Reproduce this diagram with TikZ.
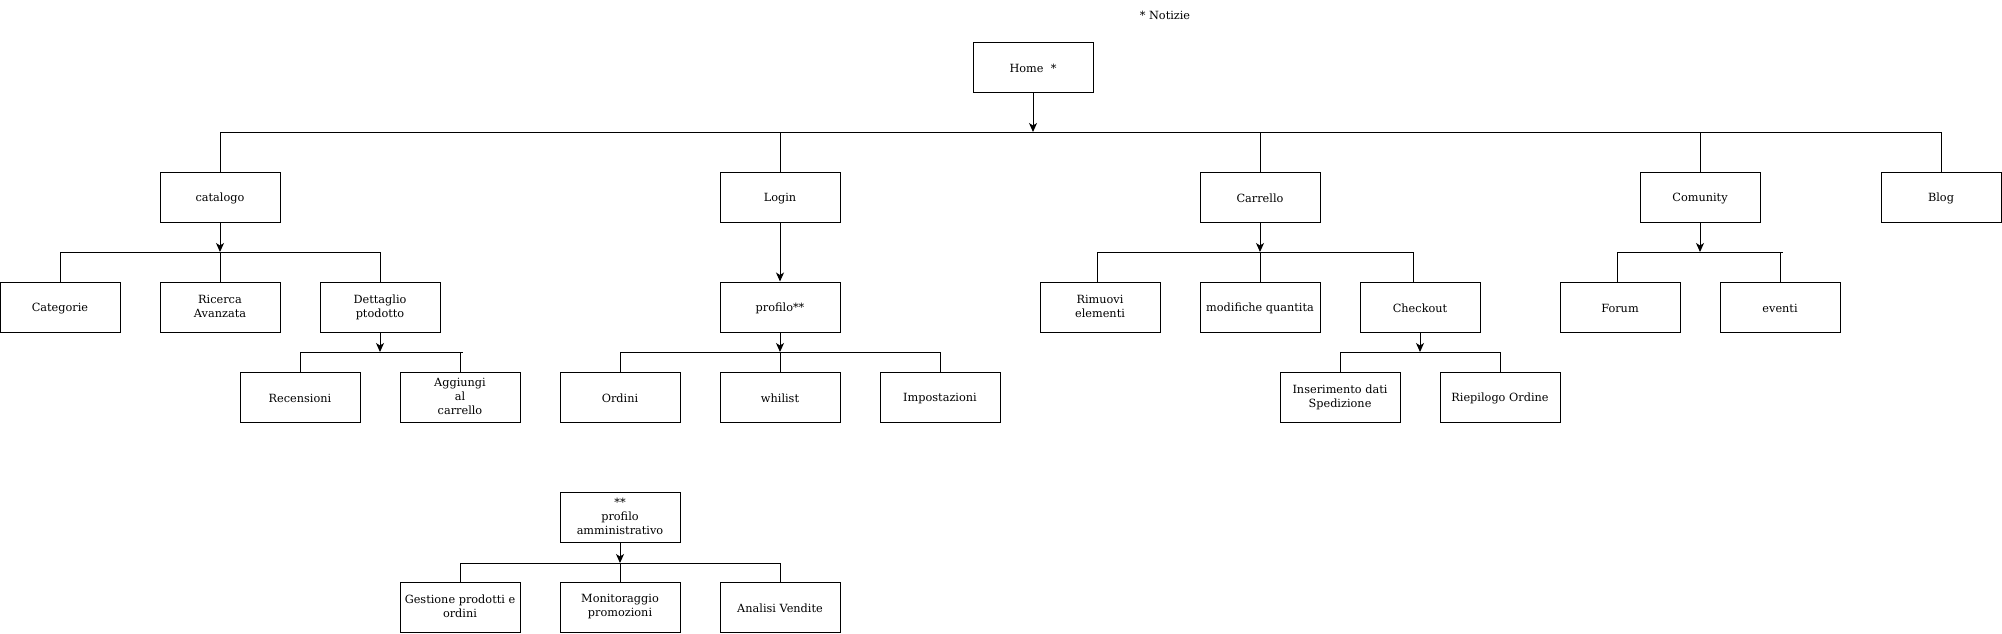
\documentclass[tikz,border=0pt]{standalone}
\usepackage{fontspec}
\setmainfont{DejaVu Serif}
\usetikzlibrary{arrows.meta}
\newcommand{\mystrut}{\rule[-2pt]{0pt}{14pt}}
\tikzset{
  box/.style={draw, line width=1pt, minimum width=120pt, minimum height=50pt, inner sep=0pt, align=center, font=\fontsize{11.3}{14}\selectfont, execute at begin node={\mystrut}, execute at end node={\mystrut}},
  arr/.style={-{Stealth[length=9pt,width=8pt,inset=2.5pt]}, line width=1pt},
  ln/.style={line width=1pt},
  note/.style={font=\fontsize{11.3}{14}\selectfont, inner sep=0pt}
}
\begin{document}
\begin{tikzpicture}[x=1pt,y=-1pt]
\useasboundingbox (0,0) rectangle (2002,633);
% notes
\node[note] (notizie) at (1165,15) {* Notizie};
% level 0
\node[box] (home) at (1033,67) {Home\ \ *};
% level 1
\node[box] (catalogo) at (220,197) {catalogo};
\node[box] (login) at (780,197) {Login};
\node[box] (carrello) at (1260,197) {Carrello};
\node[box] (comunity) at (1700,197) {Comunity};
\node[box] (blog) at (1941,197) {Blog};
% level 2
\node[box] (categorie) at (60,307) {Categorie};
\node[box] (ricerca) at (220,307) {Ricerca\\Avanzata};
\node[box] (dettaglio) at (380,307) {Dettaglio\\ptodotto};
\node[box] (profilo) at (780,307) {profilo**};
\node[box] (rimuovi) at (1100,307) {Rimuovi\\elementi};
\node[box] (modifiche) at (1260,307) {modifiche quantita};
\node[box] (checkout) at (1420,307) {Checkout};
\node[box] (forum) at (1620,307) {Forum};
\node[box] (eventi) at (1780,307) {eventi};
% level 3
\node[box] (recensioni) at (300,397) {Recensioni};
\node[box] (aggiungi) at (460,397) {Aggiungi\\al\\carrello};
\node[box] (ordini) at (620,397) {Ordini};
\node[box] (whilist) at (780,397) {whilist};
\node[box] (impostazioni) at (940,397) {Impostazioni};
\node[box] (inserimento) at (1340,397) {Inserimento dati\\Spedizione};
\node[box] (riepilogo) at (1500,397) {Riepilogo Ordine};
% admin
\node[box] (admin) at (620,517) {**\\profilo\\amministrativo};
\node[box] (gestione) at (460,607) {Gestione prodotti e\\ordini};
\node[box] (monitoraggio) at (620,607) {Monitoraggio\\promozioni};
\node[box] (analisi) at (780,607) {Analisi Vendite};

% bar coordinates
\coordinate (topbar) at (1033,132);
\coordinate (catbar) at (220,252);
\coordinate (detbar) at (380,352);
\coordinate (profbar) at (780,352);
\coordinate (carbar) at (1260,252);
\coordinate (chkbar) at (1420,352);
\coordinate (combar) at (1700,252);
\coordinate (admbar) at (620,563);

% top level
\draw[arr] (home) -- (topbar);
\draw[ln] (catalogo.north) |- (blog.north |- topbar) -- (blog.north);
\draw[ln] (login.north) -- (login.north |- topbar);
\draw[ln] (carrello.north) -- (carrello.north |- topbar);
\draw[ln] (comunity.north) -- (comunity.north |- topbar);

% catalogo
\draw[arr] (catalogo) -- (catbar);
\draw[ln] (categorie.north) |- (dettaglio.north |- catbar) -- (dettaglio.north);
\draw[ln] (ricerca.north) -- (ricerca.north |- catbar);

% dettaglio
\draw[arr] (dettaglio) -- (detbar);
\draw[ln] (recensioni.north) |- ([xshift=3pt]aggiungi.north |- detbar);
\draw[ln] (aggiungi.north) -- (aggiungi.north |- detbar);

% login
\draw[arr] (login) -- (profilo);
\draw[arr] (profilo) -- (profbar);
\draw[ln] (ordini.north) |- (impostazioni.north |- profbar) -- (impostazioni.north);
\draw[ln] (whilist.north) -- (whilist.north |- profbar);

% carrello
\draw[arr] (carrello) -- (carbar);
\draw[ln] ([xshift=-3pt]rimuovi.north) |- ([xshift=-7pt]checkout.north |- carbar) -- ([xshift=-7pt]checkout.north);
\draw[ln] (modifiche.north) -- (modifiche.north |- carbar);

% checkout
\draw[arr] (checkout) -- (chkbar);
\draw[ln] (inserimento.north) |- (riepilogo.north |- chkbar) -- (riepilogo.north);

% comunity
\draw[arr] (comunity) -- (combar);
\draw[ln] ([xshift=-3pt]forum.north) |- ([xshift=3pt]eventi.north |- combar);
\draw[ln] (eventi.north) -- (eventi.north |- combar);

% admin
\draw[arr] (admin) -- (admbar);
\draw[ln] (gestione.north) |- (analisi.north |- admbar) -- (analisi.north);
\draw[ln] (monitoraggio.north) -- (monitoraggio.north |- admbar);
\end{tikzpicture}
\end{document}
